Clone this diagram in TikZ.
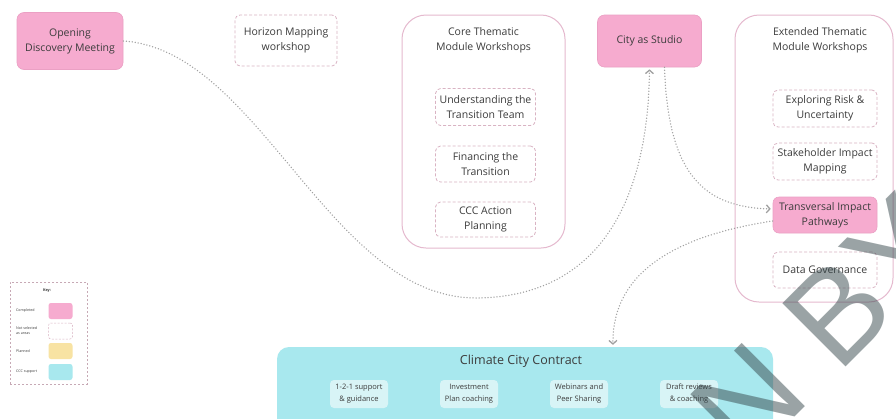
\documentclass[tikz,border=0pt]{standalone}
\usepackage{fontspec}
\setmainfont{Open Sans}
\newfontfamily\markfont{Liberation Sans}
\usetikzlibrary{arrows.meta}
\definecolor{pinkfill}{HTML}{F6ABCF}
\definecolor{pinkedge}{HTML}{EBA0C4}
\definecolor{frameedge}{HTML}{E5B9CE}
\definecolor{dashedge}{HTML}{D9B3C3}
\definecolor{cccfill}{HTML}{A8E8EE}
\definecolor{cccsub}{HTML}{D8F4F6}
\definecolor{plannedfill}{HTML}{F8E3A3}
\definecolor{txt}{HTML}{3C3C3C}
\definecolor{linkgrey}{HTML}{A0A0A0}
\definecolor{markgrey}{HTML}{37484C}
\begin{document}
\begin{tikzpicture}[x=1pt,y=-1pt,
  every node/.style={text=txt, align=center, inner sep=0pt},
  donebox/.style={fill=pinkfill, draw=pinkedge, line width=0.6pt, rounded corners=7pt},
  openbox/.style={draw=dashedge, line width=0.8pt, dash pattern=on 3pt off 2pt, rounded corners=5pt},
  groupbox/.style={draw=frameedge, line width=1pt, rounded corners=24pt},
  subbox/.style={fill=cccsub, rounded corners=4pt, minimum width=58pt, minimum height=28pt},
  linkline/.style={draw=linkgrey, line width=1.5pt, line cap=round, dash pattern=on 0pt off 3pt},
  tipend/.style={-{Straight Barb[length=3.5pt,width=8pt,line width=1.3pt]}},
  txtmain/.style={font=\fontsize{10.5}{15}\selectfont},
  txtsmall/.style={font=\fontsize{7.5}{12}\selectfont},
  txtkey/.style={font=\fontsize{3.6}{5}\selectfont},
]
\fill[white] (0,0) rectangle (896,418);
\useasboundingbox (0,0) rectangle (896,418);

% Climate City Contract band
\node[fill=cccfill, rounded corners=12pt, minimum width=496pt, minimum height=90pt] (ccc) at (525,392) {};
\node[font=\fontsize{12.5}{15}\selectfont] (ccctitle) at (521,361) {Climate City Contract};
\node[subbox, txtsmall] (s1) at (359,394) {1-2-1 support\\\& guidance};
\node[subbox, txtsmall] (s2) at (469,394) {Investment\\Plan coaching};
\node[subbox, txtsmall] (s3) at (579,394) {Webinars and\\Peer Sharing};
\node[subbox, txtsmall] (s4) at (689,394) {Draft reviews\\\& coaching};

% single sessions
\node[donebox, txtmain, minimum width=106pt, minimum height=57pt] (odm) at (70,41) {Opening\\Discovery Meeting};
\node[openbox, txtmain, minimum width=102pt, minimum height=51pt] (hmw) at (286,40.5) {Horizon Mapping\\workshop};
\node[donebox, txtmain, minimum width=104pt, minimum height=52pt] (city) at (649.5,41) {City as Studio};

% core thematic modules
\node[groupbox, minimum width=163pt, minimum height=233pt] (core) at (483.5,131.5) {};
\node[txtmain] (coretitle) at (483.5,40) {Core Thematic\\Module Workshops};
\node[openbox, txtmain, minimum width=100pt, minimum height=37pt] (ut) at (485.5,107) {Understanding the\\Transition Team};
\node[openbox, txtmain, minimum width=100pt, minimum height=36pt] (ft) at (485.5,164) {Financing the\\Transition};
\node[openbox, txtmain, minimum width=100pt, minimum height=35pt] (cap) at (485.5,219.5) {CCC Action\\Planning};

% extended thematic modules
\node[groupbox, minimum width=158pt, minimum height=287pt] (ext) at (814,158.5) {};
\node[txtmain] (exttitle) at (820,40) {Extended Thematic\\Module Workshops};
\node[openbox, txtmain, minimum width=104pt, minimum height=37pt] (risk) at (825,108.5) {Exploring Risk \&\\Uncertainty};
\node[openbox, txtmain, minimum width=104pt, minimum height=37pt] (shm) at (825,161.5) {Stakeholder Impact\\Mapping};
\node[donebox, txtmain, rounded corners=6pt, minimum width=104pt, minimum height=36pt] (tip) at (825,215) {Transversal Impact\\Pathways};
\node[openbox, txtmain, minimum width=104pt, minimum height=36pt] (dg) at (825,270) {Data Governance};

% connectors
\draw[linkline, tipend, shorten >=2pt] (odm.east) .. controls (260,50) and (330,300) .. (478,298)
  .. controls (600,296) and (648,200) .. (city.south);
\draw[linkline, tipend, shorten >=2pt] ([xshift=15pt]city.south) .. controls (668,170) and (700,207) .. ([yshift=6pt]tip.west);
\draw[linkline, tipend, shorten >=2pt] ([yshift=-6pt]tip.west) .. controls (680,235) and (612,270) .. ([xshift=88pt]ccc.north);

% key
\node[draw=dashedge!80!gray, line width=0.6pt, dash pattern=on 2pt off 2pt, minimum width=77pt, minimum height=102pt] (keybox) at (48.5,333) {};
\node[txtkey, font=\fontsize{3.8}{5}\bfseries] (keytitle) at (47,291) {Key:};
\node[fill=pinkfill, rounded corners=2.5pt, minimum width=24pt, minimum height=16pt] (k1) at (60.5,311) {};
\node[txtkey, anchor=west] (k1t) at (16,311) {Completed};
\node[draw=dashedge, line width=0.5pt, dash pattern=on 2pt off 1.5pt, rounded corners=2.5pt, minimum width=24pt, minimum height=16pt] (k2) at (60.5,331) {};
\node[txtkey, anchor=west, align=left] (k2t) at (16,331) {Not selected\\as areas};
\node[fill=plannedfill, rounded corners=2.5pt, minimum width=24pt, minimum height=16pt] (k3) at (60.5,351) {};
\node[txtkey, anchor=west] (k3t) at (16,351) {Planned};
\node[fill=cccfill, rounded corners=2.5pt, minimum width=24pt, minimum height=16pt] (k4) at (60.5,372) {};
\node[txtkey, anchor=west] (k4t) at (16,372) {CCC support};

% overlay lettering
\node[rotate=45, text=markgrey, opacity=0.5, font=\fontsize{130}{130}\selectfont\markfont] (overlay) at (822,327) {N BY};
\end{tikzpicture}
\end{document}
